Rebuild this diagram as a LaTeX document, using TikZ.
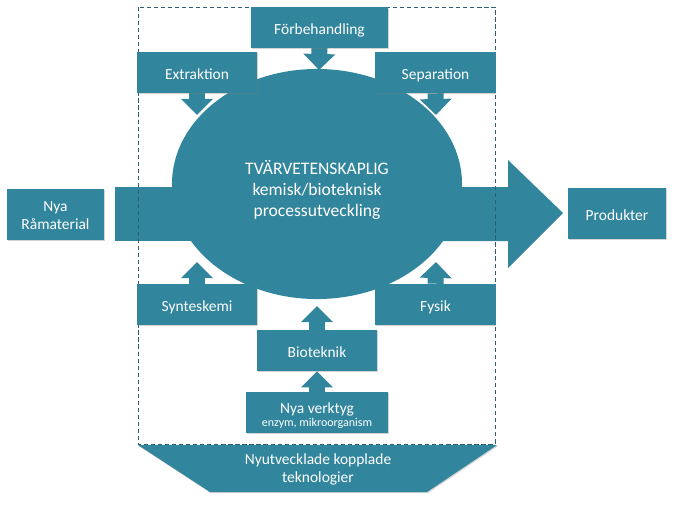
\documentclass[tikz,border=0pt]{standalone}
\usepackage{fontspec}
\setmainfont{Carlito}
\usetikzlibrary{arrows.meta,shadows,backgrounds,shapes.geometric}
\definecolor{blagron}{RGB}{49,133,156}
\definecolor{ramfarg}{RGB}{45,95,115}
\tikzset{
	ruta/.style={fill=blagron, text=white, align=center, inner sep=0pt,
		font=\fontsize{11}{13}\selectfont, text height=10pt, text depth=0pt,
		drop shadow={shadow xshift=0.6pt, shadow yshift=-0.8pt, opacity=0.35}},
	pil/.style={draw=blagron, line width=0.4cm, -{Triangle[width=0.775cm,length=0.4cm]}}
}
\begin{document}
\begin{tikzpicture}[x=0.025cm, y=-0.025cm]
	\useasboundingbox (0,0) rectangle (694,520);
	
	% rutor
	\node[ruta, minimum width=3.425cm, minimum height=1cm] (forb) at (319.5,27.5){Förbehandling};
	\node[ruta, minimum width=3cm, minimum height=1.025cm] (extr) at (197,72.5){Extraktion};
	\node[ruta, minimum width=3cm, minimum height=1.025cm] (sep) at (435.5,72.5){Separation};
	\node[ruta, minimum width=3cm, minimum height=1.025cm] (synt) at (197,304.5){Synteskemi};
	\node[ruta, minimum width=3cm, minimum height=1.025cm] (fys) at (435.5,304.5){Fysik};
	\node[ruta, minimum width=3cm, minimum height=1.025cm] (bio) at (317,350.5){Bioteknik};
	\node[ruta, minimum width=3.55cm, minimum height=1.025cm, text height=20.5pt] (verktyg) at (317,412.5){Nya verktyg\\[-3.5pt]{\fontsize{8.5}{9}\selectfont enzym, mikroorganism}};
	\node[ruta, minimum width=2.425cm, minimum height=1.275cm, text height=22pt] (ramat) at (55.5,214.5){Nya\\Råmaterial};
	\node[ruta, minimum width=2.45cm, minimum height=1.275cm] (prod) at (617,213.5){Produkter};
	
	% trapets nederst
	\fill[blagron, drop shadow={shadow xshift=0.6pt, shadow yshift=-0.8pt, opacity=0.35}] (138,445) -- (497,445) -- (427,492) -- (210,492) -- cycle;
	\node[text=white, align=center, font=\fontsize{11}{13}\selectfont, text height=18.4pt, text depth=0pt] (nyteknik) at (318,470){Nyutvecklade kopplade\\teknologier};
	
	\begin{scope}[on background layer]
		% stora pilar
		\fill[blagron] (115,187) rectangle (230,241);
		\fill[blagron] (400,187) -- (508,187) -- (508,160) -- (563,213) -- (508,268) -- (508,241) -- (400,241) -- cycle;
		
		\node[ellipse, fill=blagron, minimum width=7.25cm, minimum height=5.75cm, inner sep=0pt] (karna) at (317,184){};
		\node[text=white, align=center, font=\fontsize{12.5}{15}\selectfont, text height=38pt, text depth=0pt] (karntext) at (317,190){TVÄRVETENSKAPLIG\\kemisk/bioteknisk\\processutveckling};
		
		\coordinate (tFor) at (319,70);
		\coordinate (tExt) at (197,115);
		\coordinate (tSep) at (436,115);
		\coordinate (tSyn) at (197,262);
		\coordinate (tFys) at (436,262);
		\coordinate (tBio) at (317,306);
		
		\draw[pil] (forb.south) to (tFor);
		\draw[pil] (extr.south) to (tExt);
		\draw[pil] (sep.south) to (tSep);
		\draw[pil] (synt.north) to (tSyn);
		\draw[pil] (fys.north) to (tFys);
		\draw[pil] (bio.north) to (tBio);
		\draw[pil] (verktyg.north) to (bio.south);
		
		\draw[ramfarg, densely dashed, line width=0.6pt] (138,7) rectangle (495,444);
	\end{scope}
\end{tikzpicture}
\end{document}
